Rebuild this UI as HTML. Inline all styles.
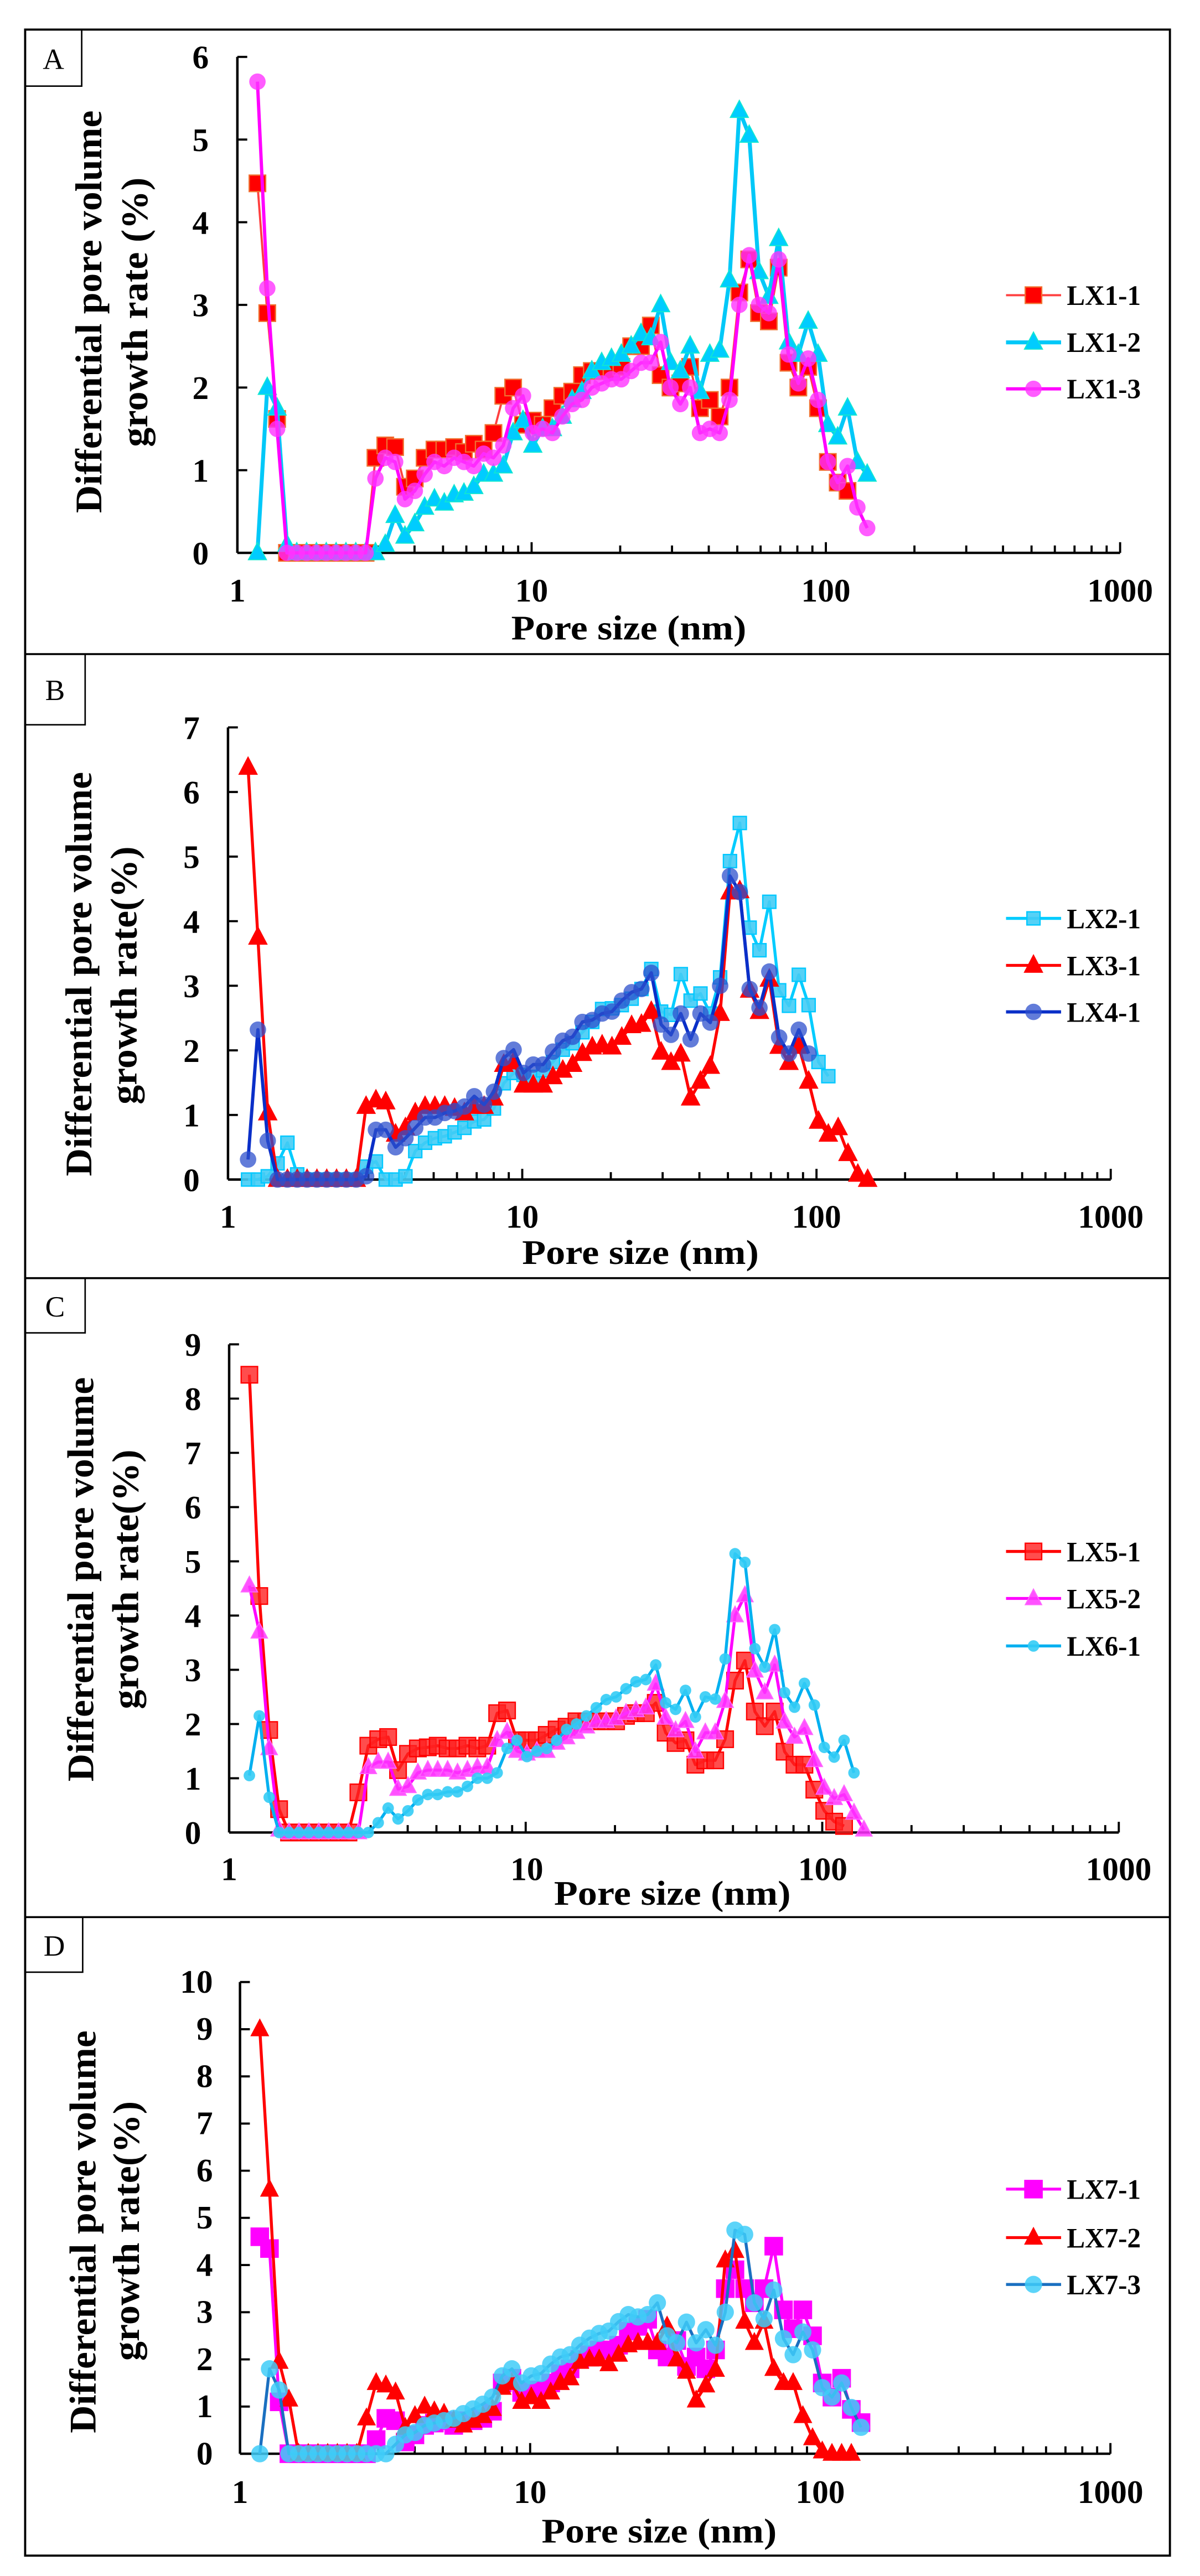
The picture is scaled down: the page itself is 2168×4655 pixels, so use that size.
<!DOCTYPE html>
<html><head><meta charset="utf-8">
<style>
html,body{margin:0;padding:0;background:#fff;}
svg{display:block;}
text{font-family:"Liberation Serif","DejaVu Serif",serif;fill:#000;}
.tk{font-size:20px;font-weight:bold;}
.ttl{font-size:21px;font-weight:bold;}
.yt{font-size:23px;font-weight:bold;}
.lg{font-size:17px;font-weight:bold;}
.lb{font-size:18px;}
</style></head>
<body>
<svg id="s" width="2168" height="4655" viewBox="0 0 730 1567.4" preserveAspectRatio="none" xmlns="http://www.w3.org/2000/svg">
<rect x="0" y="0" width="730" height="1568" fill="#fff"/>
<rect x="15.3" y="18" width="696.4" height="1537" fill="none" stroke="#000" stroke-width="1.3"/>
<line x1="15.3" y1="398" x2="711.7" y2="398" stroke="#000" stroke-width="1.2"/>
<line x1="15.3" y1="777.7" x2="711.7" y2="777.7" stroke="#000" stroke-width="1.2"/>
<line x1="15.3" y1="1166.5" x2="711.7" y2="1166.5" stroke="#000" stroke-width="1.2"/>
<rect x="15.3" y="18" width="34.4" height="34.4" fill="none" stroke="#000" stroke-width="0.9"/>
<text class="lb" x="32.5" y="42" text-anchor="middle">A</text>
<rect x="15.3" y="398" width="36.5" height="43" fill="none" stroke="#000" stroke-width="0.9"/>
<text class="lb" x="33.5" y="426" text-anchor="middle">B</text>
<rect x="15.3" y="777.7" width="36.5" height="33.3" fill="none" stroke="#000" stroke-width="0.9"/>
<text class="lb" x="33.5" y="801" text-anchor="middle">C</text>
<rect x="15.3" y="1166.5" width="35" height="33.5" fill="none" stroke="#000" stroke-width="0.9"/>
<text class="lb" x="33" y="1190" text-anchor="middle">D</text>

<g class="tk" text-anchor="end">
<text x="127" y="343.4">0</text><text x="127" y="293.1">1</text><text x="127" y="242.8">2</text><text x="127" y="192.5">3</text><text x="127" y="142.2">4</text><text x="127" y="91.9">5</text><text x="127" y="41.6">6</text>
</g>
<g class="tk" text-anchor="middle">
<text x="144.4" y="366">1</text><text x="323.4" y="366">10</text><text x="502.4" y="366">100</text><text x="681.4" y="366">1000</text>
</g>
<text class="ttl" x="382.5" y="389" text-anchor="middle" textLength="143" lengthAdjust="spacingAndGlyphs">Pore size (nm)</text>
<text class="yt" transform="translate(61.7,189.7) rotate(-90)" text-anchor="middle" textLength="245" lengthAdjust="spacingAndGlyphs">Differential pore volume</text>
<text class="yt" transform="translate(89.5,190) rotate(-90)" text-anchor="middle" textLength="164" lengthAdjust="spacingAndGlyphs">growth rate (%)</text>
<g class="lg">
<text x="649" y="185.5" textLength="45" lengthAdjust="spacingAndGlyphs">LX1-1</text>
<text x="649" y="214.2" textLength="45" lengthAdjust="spacingAndGlyphs">LX1-2</text>
<text x="649" y="242.5" textLength="45" lengthAdjust="spacingAndGlyphs">LX1-3</text>
</g>

<g class="tk" text-anchor="end">
<text x="121.5" y="724.7">0</text><text x="121.5" y="685.4">1</text><text x="121.5" y="646.1">2</text><text x="121.5" y="606.8">3</text><text x="121.5" y="567.5">4</text><text x="121.5" y="528.2">5</text><text x="121.5" y="488.9">6</text><text x="121.5" y="449.6">7</text>
</g>
<g class="tk" text-anchor="middle">
<text x="138.7" y="747">1</text><text x="317.7" y="747">10</text><text x="496.7" y="747">100</text><text x="675.7" y="747">1000</text>
</g>
<text class="ttl" x="389.6" y="769" text-anchor="middle" textLength="144" lengthAdjust="spacingAndGlyphs">Pore size (nm)</text>
<text class="yt" transform="translate(55.5,592.7) rotate(-90)" text-anchor="middle" textLength="246" lengthAdjust="spacingAndGlyphs">Differential pore volume</text>
<text class="yt" transform="translate(83,593.5) rotate(-90)" text-anchor="middle" textLength="157" lengthAdjust="spacingAndGlyphs">growth rate(%)</text>
<g class="lg">
<text x="649" y="564.8" textLength="45" lengthAdjust="spacingAndGlyphs">LX2-1</text>
<text x="649" y="593.4" textLength="45" lengthAdjust="spacingAndGlyphs">LX3-1</text>
<text x="649" y="621.7" textLength="45" lengthAdjust="spacingAndGlyphs">LX4-1</text>
</g>

<g class="tk" text-anchor="end">
<text x="122.4" y="1122">0</text><text x="122.4" y="1089">1</text><text x="122.4" y="1056">2</text><text x="122.4" y="1023">3</text><text x="122.4" y="990">4</text><text x="122.4" y="957">5</text><text x="122.4" y="924">6</text><text x="122.4" y="891">7</text><text x="122.4" y="858">8</text><text x="122.4" y="825">9</text>
</g>
<g class="tk" text-anchor="middle">
<text x="139.4" y="1144">1</text><text x="320.5" y="1144">10</text><text x="500.5" y="1144">100</text><text x="680.5" y="1144">1000</text>
</g>
<text class="ttl" x="409" y="1159" text-anchor="middle" textLength="144" lengthAdjust="spacingAndGlyphs">Pore size (nm)</text>
<text class="yt" transform="translate(56.7,961) rotate(-90)" text-anchor="middle" textLength="246" lengthAdjust="spacingAndGlyphs">Differential pore volume</text>
<text class="yt" transform="translate(84,961) rotate(-90)" text-anchor="middle" textLength="158" lengthAdjust="spacingAndGlyphs">growth rate(%)</text>
<g class="lg">
<text x="649" y="950" textLength="45" lengthAdjust="spacingAndGlyphs">LX5-1</text>
<text x="649" y="978.6" textLength="45" lengthAdjust="spacingAndGlyphs">LX5-2</text>
<text x="649" y="1007.5" textLength="45" lengthAdjust="spacingAndGlyphs">LX6-1</text>
</g>

<g class="tk" text-anchor="end">
<text x="129.5" y="1499.5">0</text><text x="129.5" y="1470.8">1</text><text x="129.5" y="1442.1">2</text><text x="129.5" y="1413.4">3</text><text x="129.5" y="1384.7">4</text><text x="129.5" y="1356">5</text><text x="129.5" y="1327.3">6</text><text x="129.5" y="1298.6">7</text><text x="129.5" y="1269.9">8</text><text x="129.5" y="1241.2">9</text><text x="129.5" y="1212.5">10</text>
</g>
<g class="tk" text-anchor="middle">
<text x="146" y="1523">1</text><text x="322.5" y="1523">10</text><text x="499" y="1523">100</text><text x="675.5" y="1523">1000</text>
</g>
<text class="ttl" x="401" y="1547" text-anchor="middle" textLength="143" lengthAdjust="spacingAndGlyphs">Pore size (nm)</text>
<text class="yt" transform="translate(58,1358) rotate(-90)" text-anchor="middle" textLength="245" lengthAdjust="spacingAndGlyphs">Differential pore volume</text>
<text class="yt" transform="translate(84.5,1357.5) rotate(-90)" text-anchor="middle" textLength="158" lengthAdjust="spacingAndGlyphs">growth rate(%)</text>
<g class="lg">
<text x="649" y="1338" textLength="45" lengthAdjust="spacingAndGlyphs">LX7-1</text>
<text x="649" y="1367.5" textLength="45" lengthAdjust="spacingAndGlyphs">LX7-2</text>
<text x="649" y="1396" textLength="45" lengthAdjust="spacingAndGlyphs">LX7-3</text>
</g>
<g id="plot"></g>
</svg>
<script>
(function(){
var NS="http://www.w3.org/2000/svg";
var g=document.getElementById("plot");
function el(t,a){var e=document.createElementNS(NS,t);for(var k in a)e.setAttribute(k,a[k]);g.appendChild(e);return e;}
function X(i){return 1.17*Math.pow(1.08,i);}
function marker(type,cx,cy,s,fill,stroke,op){
  if(type==="sq"){el("rect",{x:cx-s/2,y:cy-s/2,width:s,height:s,fill:fill,stroke:stroke,"stroke-width":0.8,"fill-opacity":op});}
  else if(type==="tri"){var h=s*0.95;el("polygon",{points:(cx)+","+(cy-h*0.6)+" "+(cx-s/2)+","+(cy+h*0.4)+" "+(cx+s/2)+","+(cy+h*0.4),fill:fill,stroke:stroke,"stroke-width":0.6,"fill-opacity":op});}
  else {el("circle",{cx:cx,cy:cy,r:s/2,fill:fill,"fill-opacity":op});}
}
var panels=[
{x0:144.4,dec:179,y0:336.4,unit:50.3,ymax:6,leg:[179.6,208.3,236.6],series:[
 {d:[4.47,2.9,1.62,0,0,0,0,0,0,0, 0,0,1.15,1.3,1.28,0.8,0.9,1.15,1.25,1.25, 1.28,1.22,1.32,1.25,1.45,1.9,2.0,1.55,1.6,1.55, 1.75,1.9,1.95,2.15,2.2,2.2,2.2,2.25,2.5,2.5, 2.75,2.15,2.0,2.05,2.25,1.75,1.85,1.65,2.0,3.15, 3.55,2.9,2.8,3.45,2.3,2.0,2.25,1.75,1.1,0.85,0.75],
  lc:"#ff4040",lw:1.3,m:"sq",s:10,f:"#ff0000",st:"#f07030",op:1},
 {d:[0,2.0,1.75,0.1,0,0,0,0,0,0, 0,0,0,0.1,0.45,0.2,0.35,0.55,0.65,0.6, 0.7,0.72,0.8,0.95,0.95,1.05,1.45,1.6,1.3,1.5, 1.5,1.65,1.85,1.95,2.2,2.3,2.35,2.4,2.5,2.65, 2.6,3.0,2.3,2.2,2.5,1.95,2.4,2.45,3.3,5.35, 5.05,3.4,3.1,3.8,2.55,2.4,2.8,2.4,1.55,1.4,1.75,1.1,0.95],
  lc:"#00c8f8",lw:2.4,m:"tri",s:11,f:"#00ccff",st:"#10e8d0",op:1},
 {d:[5.7,3.2,1.5,0,0,0,0,0,0,0, 0,0,0.9,1.15,1.1,0.65,0.75,0.95,1.1,1.05, 1.15,1.1,1.05,1.2,1.15,1.3,1.75,1.9,1.45,1.5, 1.45,1.65,1.8,1.85,2.0,2.05,2.1,2.1,2.2,2.3, 2.3,2.55,2.0,1.8,2.0,1.45,1.5,1.45,1.85,3.0, 3.6,3.0,2.9,3.55,2.4,2.05,2.35,1.85,1.1,0.85,1.05,0.55,0.3],
  lc:"#ff00ff",lw:2.0,m:"ci",s:10,f:"#ff33ff",st:"none",op:0.8}
]},
{x0:138.7,dec:179,y0:717.7,unit:39.3,ymax:7,leg:[558.8,587.4,615.7],series:[
 {d:[0,0,0.05,0.25,0.57,0.08,0,0,0,0, 0,0,0.2,0.28,0,0,0.05,0.44,0.57,0.64, 0.67,0.73,0.8,0.9,0.93,1.1,1.49,1.65,1.62,1.59, 1.69,1.82,2.01,2.11,2.28,2.44,2.64,2.65,2.7,2.8, 2.95,3.26,2.6,2.55,3.18,2.77,2.88,2.57,3.13,4.93, 5.52,3.9,3.55,4.3,2.93,2.69,3.17,2.7,1.82,1.6],
  lc:"#00ccff",lw:1.8,m:"sq",s:8,f:"#44ccf5",st:"#00c8ff",op:0.9},
 {d:[6.38,3.75,1.03,0,0,0,0,0,0,0, 0,0,1.13,1.23,1.2,0.7,0.8,1.03,1.13,1.13, 1.13,1.1,1.03,1.13,1.13,1.26,1.78,1.82,1.46,1.46, 1.46,1.59,1.69,1.78,1.95,2.05,2.08,2.05,2.2,2.38, 2.4,2.6,1.97,1.81,1.94,1.26,1.52,1.75,2.57,4.45, 4.47,2.93,2.6,3.1,2.06,1.81,2.06,1.52,0.9,0.7, 0.8,0.4,0.08,0],
  lc:"#ff0000",lw:1.8,m:"tri",s:11,f:"#ff0000",st:"#ff0000",op:1},
 {d:[0.31,2.32,0.6,0,0,0,0,0,0,0, 0,0,0.05,0.77,0.77,0.5,0.64,0.8,0.96,0.96, 1.03,1.06,1.13,1.29,1.16,1.36,1.88,2.01,1.65,1.78, 1.78,1.98,2.15,2.21,2.44,2.47,2.57,2.6,2.77,2.9, 2.95,3.2,2.4,2.24,2.57,2.17,2.57,2.43,3.0,4.7, 4.45,2.95,2.66,3.22,2.2,1.95,2.32,1.95],
  lc:"#0a2fc8",lw:2.0,m:"ci",s:10,f:"#2d50cc",st:"none",op:0.75}
]},
{x0:139.4,dec:180.4,y0:1115,unit:33,ymax:9,leg:[944,972.6,1001.5],series:[
 {d:[8.44,4.36,1.89,0.43,0,0,0,0,0,0, 0,0.74,1.6,1.72,1.76,1.15,1.45,1.55,1.57,1.6, 1.55,1.55,1.6,1.55,1.6,2.2,2.25,1.7,1.7,1.7, 1.8,1.9,1.95,2.05,2.05,2.05,2.05,2.05,2.15,2.2, 2.2,2.39,1.84,1.65,1.7,1.25,1.33,1.33,1.72,2.8, 3.17,2.23,1.96,2.23,1.49,1.25,1.25,0.79,0.4,0.2,0.12],
  lc:"#ff0000",lw:1.8,m:"sq",s:10,f:"#ff2020",st:"#ff0000",op:0.8},
 {d:[4.55,3.7,1.55,0.05,0,0,0,0,0,0, 0,0,1.2,1.3,1.3,0.8,0.85,1.1,1.15,1.15, 1.15,1.1,1.15,1.2,1.2,1.7,1.85,1.5,1.45,1.5, 1.5,1.65,1.75,1.85,1.95,2.05,2.05,2.1,2.2,2.25, 2.3,2.74,2.11,1.88,2.05,1.49,1.84,1.84,2.42,4.0, 4.37,2.98,2.58,3.09,2.04,1.76,1.92,1.33,0.82,0.63,0.7,0.36,0.05],
  lc:"#ff00ff",lw:1.8,m:"tri",s:10,f:"#ff33ff",st:"#ff66ff",op:0.85},
 {d:[1.05,2.15,0.65,0,0,0,0,0,0,0, 0,0,0,0.18,0.45,0.25,0.4,0.6,0.7,0.7, 0.75,0.75,0.85,1.0,1.0,1.1,1.55,1.7,1.4,1.5, 1.55,1.7,1.9,2.0,2.15,2.3,2.45,2.5,2.65,2.78, 2.82,3.09,2.39,2.27,2.62,2.13,2.5,2.46,3.2,5.14, 4.98,3.39,3.05,3.74,2.58,2.31,2.75,2.35,1.57,1.39,1.7,1.1],
  lc:"#00b0f0",lw:1.8,m:"ci",s:7,f:"#33ccf5",st:"none",op:0.9}
]},
{x0:146,dec:176.5,y0:1493,unit:28.7,ymax:10,leg:[1332,1361.5,1390],series:[
 {d:[4.6,4.35,1.1,0,0,0,0,0,0,0, 0,0,0.3,0.75,0.7,0.25,0.4,0.6,0.65,0.7, 0.6,0.7,0.7,0.75,0.9,1.5,1.6,1.3,1.35,1.35, 1.5,1.7,1.8,2.0,2.1,2.2,2.2,2.3,2.6,2.7, 2.85,2.2,2.05,2.4,1.85,2.05,1.8,2.2,3.5,3.9, 3.5,3.2,3.5,4.4,3.05,2.65,3.05,2.5,1.5,1.2,1.6,0.94,0.66],
  lc:"#ff00ff",lw:1.8,m:"sq",s:10.5,f:"#ff00ff",st:"#ff00ff",op:1},
 {d:[9.0,5.6,1.95,1.15,0,0,0,0,0,0, 0,0.75,1.5,1.45,1.3,0.55,0.8,1.0,0.9,0.85, 0.7,0.6,0.7,0.8,0.95,1.4,1.5,1.1,1.2,1.1, 1.3,1.5,1.6,1.95,2.0,2.0,1.9,2.1,2.3,2.35, 2.35,2.35,2.7,2.0,1.74,1.13,1.45,1.78,4.1,4.3, 2.8,2.35,2.8,1.8,1.5,1.5,0.8,0.33,0.05,0,0,0],
  lc:"#ff0000",lw:1.8,m:"tri",s:10.5,f:"#ff0000",st:"#ff0000",op:1},
 {d:[0,1.8,1.35,0,0,0,0,0,0,0, 0,0,0,0,0.2,0.4,0.45,0.6,0.65,0.7, 0.75,0.85,0.95,1.05,1.2,1.65,1.8,1.5,1.65,1.7, 1.9,2.05,2.1,2.3,2.45,2.55,2.6,2.8,2.95,2.9, 2.95,3.2,2.5,2.35,2.79,2.35,2.63,2.3,3.0,4.74, 4.65,3.2,2.86,3.47,2.44,2.1,2.58,2.2,1.4,1.2,1.5,0.98,0.56],
  lc:"#1a6fc0",lw:1.8,m:"ci",s:10.5,f:"#40ccf8",st:"none",op:0.85}
]}
];
panels.forEach(function(p){
  var xAt=function(v){return p.x0+p.dec*Math.log10(v);};
  var yAt=function(v){return p.y0-p.unit*v;};
  var xend=p.x0+3*p.dec;
  el("line",{x1:p.x0,y1:p.y0,x2:xend,y2:p.y0,stroke:"#000","stroke-width":1.5});
  el("line",{x1:p.x0,y1:p.y0,x2:p.x0,y2:yAt(p.ymax),stroke:"#000","stroke-width":1.5});
  for(var k=0;k<=p.ymax;k++){el("line",{x1:p.x0,y1:yAt(k),x2:p.x0+6,y2:yAt(k),stroke:"#000","stroke-width":1.3});}
  for(var d=0;d<3;d++){for(var m=2;m<=10;m++){var xx=xAt(Math.pow(10,d)*m);var L=(m===10)?6.5:4.5;el("line",{x1:xx,y1:p.y0,x2:xx,y2:p.y0-L,stroke:"#000","stroke-width":1.3});}}
  p.series.forEach(function(s){
    var pts=[];for(var i=0;i<s.d.length;i++){if(s.d[i]==null)continue;pts.push(xAt(X(i)).toFixed(2)+","+yAt(s.d[i]).toFixed(2));}
    el("polyline",{points:pts.join(" "),fill:"none",stroke:s.lc,"stroke-width":s.lw,"stroke-linejoin":"round"});
    for(var i=0;i<s.d.length;i++){if(s.d[i]==null)continue;marker(s.m,xAt(X(i)),yAt(s.d[i]),s.s,s.f,s.st,s.op);}
  });
  p.series.forEach(function(s,j){
    var y=p.leg[j];
    el("line",{x1:612,y1:y,x2:645.5,y2:y,stroke:s.lc,"stroke-width":Math.max(s.lw,1.3)});
    marker(s.m,628.7,y,s.s,s.f,s.st,s.op);
  });
});
})();
</script>
</body></html>
